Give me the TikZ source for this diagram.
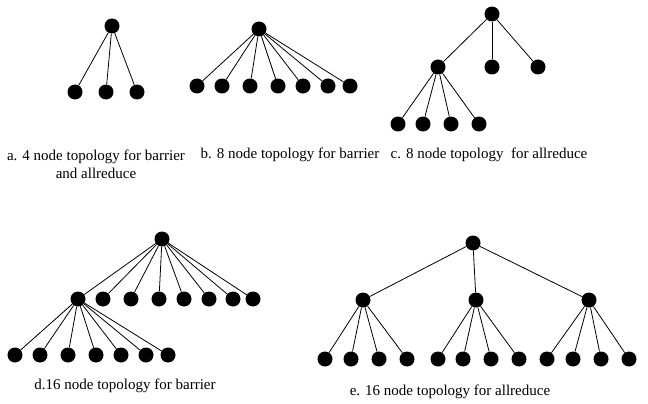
\documentclass[tikz,border=0pt]{standalone}
\usepackage{fontspec}
\setmainfont{Liberation Serif}
\begin{document}
\begin{tikzpicture}[x=1pt,y=-1pt,
  dot/.style={circle,fill=black,inner sep=0pt,minimum size=15pt},
  link/.style={line width=0.8pt},
  captext/.style={font=\fontsize{15}{18}\selectfont,align=center}]
  \useasboundingbox (0,0) rectangle (648,404);
  % a. 4 nodes
  \node[dot] (a) at (112,26) {};
  \foreach \x [count=\i] in {75,106,137}
    \node[dot] (a\i) at (\x,92) {};
  \foreach \i in {1,...,3}
    \draw[link] (a) -- (a\i);
  \node[captext] (capa) at (96,164) {a. 4 node topology for barrier\\and allreduce};
  % b. 8 nodes, flat
  \node[dot] (b) at (259,29) {};
  \foreach \x [count=\i] in {197,222,250,278,303,328,350}
    \node[dot] (b\i) at (\x,86) {};
  \foreach \i in {1,...,7}
    \draw[link] (b) -- (b\i);
  \node[captext] (capb) at (290,155) {b. 8 node topology for barrier};
  % c. 8 nodes, two levels
  \node[dot] (c) at (492,14) {};
  \foreach \x [count=\i] in {438,492,538}
    \node[dot] (cm\i) at (\x,67) {};
  \foreach \x [count=\i] in {398,423,451,479}
    \node[dot] (cl\i) at (\x,124) {};
  \foreach \i in {1,...,3}
    \draw[link] (c) -- (cm\i);
  \foreach \i in {1,...,4}
    \draw[link] (cm1) -- (cl\i);
  \node[captext] (capc) at (489,155) {c. 8 node topology~~for allreduce};
  % d. 16 nodes for barrier
  \node[dot] (d) at (162,239) {};
  \foreach \x [count=\i] in {78,103,131,159,184,209,233,253}
    \node[dot] (dm\i) at (\x,299) {};
  \foreach \x [count=\i] in {15,40,68,96,121,146,168}
    \node[dot] (dl\i) at (\x,355) {};
  \foreach \i in {1,...,8}
    \draw[link] (d) -- (dm\i);
  \foreach \i in {1,...,7}
    \draw[link] (dm1) -- (dl\i);
  \node[captext] (capd) at (125,386) {d.16 node topology for barrier};
  % e. 16 nodes for allreduce
  \node[dot] (e) at (473,243) {};
  \foreach \x [count=\i] in {363,476,589}
    \node[dot] (em\i) at (\x,300) {};
  \foreach \x [count=\i] in {325,351,379,407,438,463,491,519,547,573,601,629}
    \node[dot] (el\i) at (\x,359) {};
  \foreach \i in {1,...,3}
    \draw[link] (e) -- (em\i);
  \foreach \i in {1,...,12}{
    \pgfmathtruncatemacro\up{(\i+3)/4}
    \draw[link] (em\up) -- (el\i);
  }
  \node[captext] (cape) at (450,392) {e. 16 node topology for allreduce};
\end{tikzpicture}
\end{document}
